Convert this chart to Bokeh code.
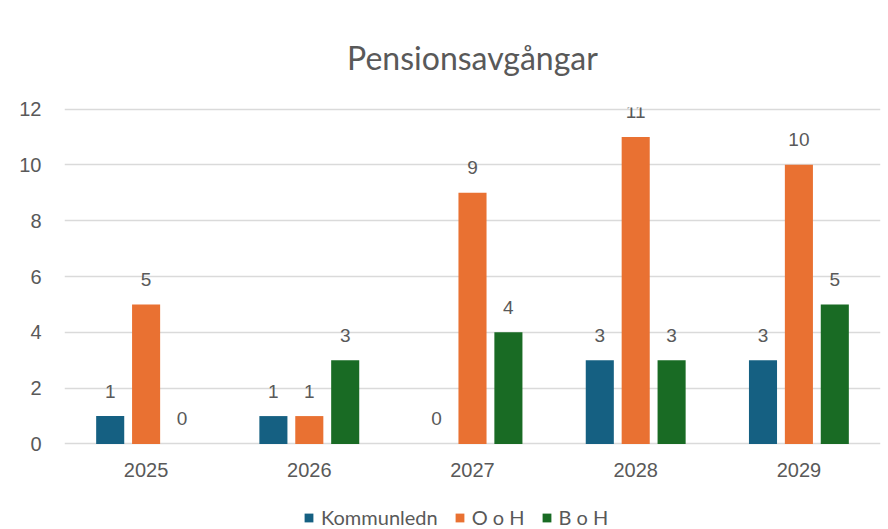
from bokeh.plotting import figure
from bokeh.models import FactorRange, ColumnDataSource, Legend, LegendItem, Range1d
from bokeh.transform import dodge
from bokeh.core.properties import value
from bokeh.embed import file_html
from bokeh.resources import INLINE

years = ["2025", "2026", "2027", "2028", "2029"]
kommunledn = [1, 1, 0, 3, 3]
ooh = [5, 1, 9, 11, 10]
boh = [0, 3, 4, 3, 5]
series_names = ["Kommunledn", "O o H", "B o H"]
colors = ["#156082", "#E97132", "#196B24"]
y_ticks = [0, 2, 4, 6, 8, 10, 12]

TEXT = "#595959"
NUMFONT = "Liberation Sans"
TXTFONT = "Lato"

src = ColumnDataSource(dict(years=years, k=kommunledn, o=ooh, b=boh,
                            kl=[str(v) for v in kommunledn],
                            ol=[str(v) for v in ooh],
                            bl=[str(v) for v in boh]))

p = figure(width=888, height=529, x_range=FactorRange(*years), y_range=Range1d(-3.063, 12.054),
           toolbar_location=None, output_backend="svg",
           min_border_left=64, min_border_right=8, min_border_top=107, min_border_bottom=0,
           title="Pensionsavgångar")
p.title.align = "center"
p.title.text_font = TXTFONT
p.title.text_font_size = "32px"
p.title.text_font_style = "normal"
p.title.text_color = TEXT
p.title.standoff = 62

p.outline_line_color = None
p.xgrid.visible = False
p.ygrid.grid_line_color = "#dadada"
p.ygrid.grid_line_width = 1.5
p.ygrid.ticker = y_ticks
p.yaxis.ticker = y_ticks
p.yaxis.axis_line_color = None
p.yaxis.major_tick_line_color = None
p.yaxis.minor_tick_line_color = None
p.yaxis.major_label_standoff = 17
p.xaxis.fixed_location = 0
p.xaxis.axis_line_color = None
p.xaxis.major_tick_line_color = None
p.xaxis.major_label_standoff = 13
for ax in (p.xaxis, p.yaxis):
    ax.major_label_text_font = NUMFONT
    ax.major_label_text_font_size = "20px"
    ax.major_label_text_color = TEXT

offs = [-0.22, 0.0, 0.22]
cols = ["k", "o", "b"]
lcols = ["kl", "ol", "bl"]
renderers = []
for off, c, lc, col in zip(offs, cols, lcols, colors):
    r = p.vbar(x=dodge("years", off, range=p.x_range), top=c, width=0.172, source=src,
               fill_color=col, line_color=None)
    renderers.append(r)
    p.text(x=dodge("years", off, range=p.x_range), y=c, text=lc, source=src,
           text_align="center", text_baseline="alphabetic", y_offset=-25,
           text_font=value(NUMFONT), text_font_size="19px", text_color=TEXT)

legend = Legend(items=[LegendItem(label=n, renderers=[r]) for n, r in zip(series_names, renderers)],
                orientation="horizontal", location=(239, 0),
                label_text_font=TXTFONT, label_text_font_size="20px", label_text_color=TEXT,
                glyph_width=11, glyph_height=11, label_standoff=7, spacing=16,
                border_line_color=None, background_fill_alpha=0, padding=0, margin=0)
p.add_layout(legend, "center")

open("out.html", "w").write(file_html(p, INLINE))
